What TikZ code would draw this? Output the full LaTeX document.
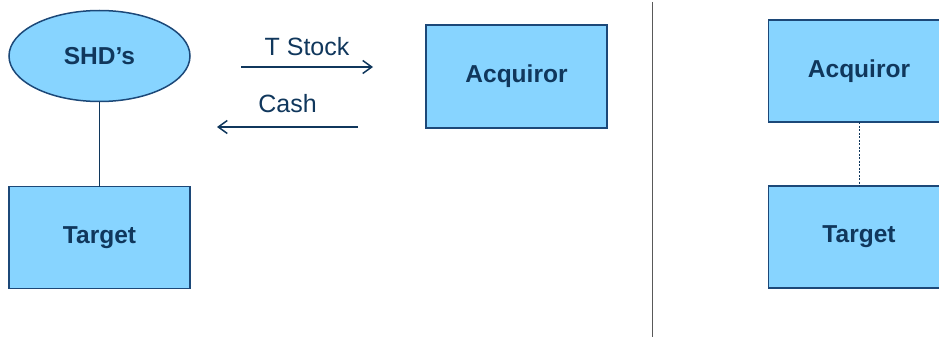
\documentclass[tikz,border=0pt]{standalone}
\usepackage{fontspec}
\setmainfont{Liberation Sans}
\usetikzlibrary{shapes.geometric,arrows.meta}
\definecolor{boxfill}{RGB}{135,212,255}
\definecolor{boxline}{RGB}{28,72,120}
\definecolor{navy}{RGB}{16,55,92}
\begin{document}
\begin{tikzpicture}[x=1pt,y=-1pt,inner sep=0pt,outer sep=0pt,
entity/.style={draw=boxline,fill=boxfill,rectangle,line width=1.5pt,minimum width=181pt,minimum height=102pt,text=navy,font=\fontsize{24.5}{28}\selectfont\bfseries},
holders/.style={draw=boxline,fill=boxfill,ellipse,line width=1.5pt,minimum width=181pt,minimum height=91pt,text=navy,font=\fontsize{24.5}{28}\selectfont\bfseries},
flow/.style={draw=navy,line width=1.5pt,-{Straight Barb[length=9pt,width=13pt,line width=1.5pt]}},
flowlabel/.style={text=navy,font=\fontsize{25}{28}\selectfont}]
\useasboundingbox (0,0) rectangle (939,337);

% before
\draw (99.5,56) node[holders] (shd) {SHD's};
\draw (99.5,237.5) node[entity] (target1) {Target};
\draw (516.5,76.5) node[entity,minimum height=103pt] (acq1) {Acquiror};
\draw[navy,line width=1.6pt] (shd) -- (target1);

\coordinate (stockA) at (241,67);
\coordinate (stockB) at (373,67);
\coordinate (cashA) at (358,127);
\coordinate (cashB) at (217,127);
\draw[flow] (stockA) -- node[flowlabel,above=11pt] (stock) {T Stock} (stockB);
\draw[flow] (cashA) -- node[flowlabel,above=14pt] (cash) {Cash} (cashB);

% divider
\coordinate (divtop) at (652,2);
\coordinate (divbot) at (652,337);
\draw[gray!70!black,line width=0.8pt] (divtop) -- (divbot);

% after
\draw (859,71) node[entity] (acq2) {Acquiror};
\draw (859,237) node[entity] (target2) {Target};
\draw[navy,line width=0.8pt,dash pattern=on 2pt off 1.5pt] (acq2) -- (target2);
\end{tikzpicture}
\end{document}
